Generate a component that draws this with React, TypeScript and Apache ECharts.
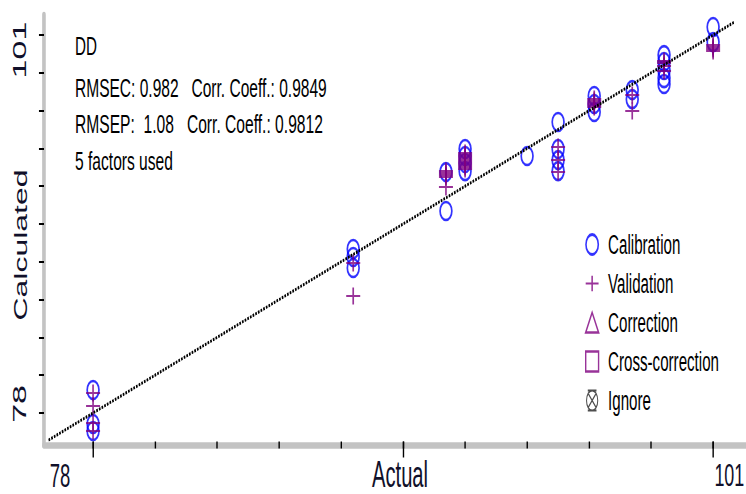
import React, { useEffect, useRef } from 'react';
import * as echarts from 'echarts';

// ---------- data ----------
const calActual = [78, 78, 78, 87.65, 87.65, 87.65, 91.09, 91.09, 91.8, 91.8, 91.8, 91.8, 94.1, 95.25, 95.25, 95.25, 95.25, 96.59, 96.59, 96.59, 98, 98, 99.18, 99.18, 99.18, 99.18, 99.18, 101, 101];
const calCalculated = [79.4, 77.33, 76.9, 87.98, 87.49, 86.82, 92.66, 90.29, 94.06, 93.64, 93.21, 92.72, 93.64, 95.71, 94.06, 93.39, 92.72, 97.29, 96.8, 96.32, 97.65, 97.1, 99.78, 99.36, 98.87, 98.38, 98.02, 101.49, 100.57];

const valActual = [
  78, 78, 78, 78,
  87.65, 87.65,
  91.09, 91.09, 91.09, 91.09, 91.09,
  91.8, 91.8, 91.8, 91.8, 91.8, 91.8, 91.8, 91.8, 91.8,
  95.25, 95.25, 95.25,
  96.59, 96.59, 96.59, 96.59, 96.59,
  98, 98,
  99.18, 99.18, 99.18, 99.18,
  101, 101, 101, 101,
];
const valCalculated = [
  79.22, 78.43, 77.39, 76.9,
  87.13, 85.12,
  92.72, 92.6, 92.48, 92.36, 91.75,
  93.82, 93.7, 93.58, 93.46, 93.33, 93.21, 93.09, 92.97, 92.85,
  94.19, 93.39, 92.66,
  97.11, 96.99, 96.87, 96.75, 96.62,
  97.35, 96.38,
  99.42, 99.3, 99.11, 98.81,
  100.39, 100.27, 100.15, 100.03,
];

const tickValues = [78, 80.3, 82.6, 84.9, 87.2, 89.5, 91.8, 94.1, 96.4, 98.7, 101];
const majorTicks = [78, 89.5, 101];
const labelValues = [78, 101];
const identityLine = [76.35, 101.8];
const legendNames = ['Calibration', 'Validation', 'Correction', 'Cross-correction', 'Ignore'];

const modelName = 'DD';
const rmsec = '0.982';
const corrCal = '0.9849';
const rmsep = '1.08';
const corrVal = '0.9812';
const factorsUsed = 5;

// ---------- layout ----------
const SCALE_X = 0.56;
const VIEW_W = 746;
const VIEW_H = 494;
const CHART_W = VIEW_W / SCALE_X;
const X_MIN = 76.18;
const X_MAX = 102.22;
const Y_MIN = 76.05;
const Y_MAX = 102.22;
const FONT = "'Liberation Sans', Arial, sans-serif";
const LABEL_COLOR = '#10102a';
const AXIS_GRAY = '#c3c3c3';
const BLUE = '#0000ff';
const PURPLE = '#800080';
const CLEAR = 'rgba(0,0,0,0)';

const ELLIPSE = 'path://M0,10A11,10 0 1,1 22,10A11,10 0 1,1 0,10Z';
const CROSS = 'path://M11,0H14V7.5H25V9.5H14V17H11V9.5H0V7.5H11Z';
const IGNORE = 'path://M1,10A9,9 0 1,1 19,10A9,9 0 1,1 1,10Z M4,4L16,16 M16,4L4,16 M3,1H17 M3,19H17';

const annotationLines = [
  modelName,
  `RMSEC: ${rmsec}\u00a0\u00a0 Corr. Coeff.: ${corrCal}`,
  `RMSEP:\u00a0 ${rmsep}\u00a0\u00a0 Corr. Coeff.: ${corrVal}`,
  `${factorsUsed} factors used`,
];
const annotationLayout = [
  { x: 75, y: 46, w: 22 },
  { x: 75, y: 87.5, w: 252 },
  { x: 75, y: 124, w: 248 },
  { x: 75, y: 161, w: 98 },
];
const ANNOT_SIZE = 25;

function measure(text: string, size: number): number {
  const ctx = document.createElement('canvas').getContext('2d');
  if (!ctx) return text.length * size * 0.5;
  ctx.font = `${size}px 'Liberation Sans'`;
  return ctx.measureText(text).width;
}

function buildOption() {
  const graphic = annotationLines.map((t, i) => {
    const l = annotationLayout[i];
    const natural = measure(t, ANNOT_SIZE);
    return {
      type: 'text',
      x: l.x / SCALE_X,
      y: l.y,
      scaleX: l.w / SCALE_X / natural,
      z: 10,
      style: {
        text: t,
        fill: '#000',
        fontSize: ANNOT_SIZE,
        fontFamily: FONT,
        align: 'left',
        verticalAlign: 'middle',
      },
    };
  });

  const tickAxisBase = {
    type: 'value',
    min: X_MIN,
    max: X_MAX,
    position: 'bottom',
    offset: -3.5,
    axisLine: { show: false },
    axisLabel: { show: false },
    splitLine: { show: false },
  };

  const legendStyles: any[] = [
    { icon: ELLIPSE, itemStyle: { color: CLEAR, borderColor: BLUE, borderWidth: 2.8 } },
    { icon: CROSS, itemStyle: { color: PURPLE, borderWidth: 0 } },
    { icon: 'triangle', itemStyle: { color: CLEAR, borderColor: PURPLE, borderWidth: 2.5 } },
    { icon: 'rect', itemStyle: { color: CLEAR, borderColor: PURPLE, borderWidth: 2.5 } },
    { icon: IGNORE, itemStyle: { color: CLEAR, borderColor: '#222', borderWidth: 1.8 } },
  ];

  return {
    animation: false,
    backgroundColor: '#ffffff',
    grid: { left: 44 / SCALE_X, right: 0, top: 15, bottom: 49, containLabel: false, outerBoundsMode: 'none' },
    xAxis: [
      {
        type: 'value',
        min: X_MIN,
        max: X_MAX,
        position: 'bottom',
        axisLine: { show: true, onZero: false, lineStyle: { color: AXIS_GRAY, width: 6.5 } },
        axisTick: { show: false },
        splitLine: { show: false },
        axisLabel: {
          customValues: labelValues,
          margin: 14,
          color: LABEL_COLOR,
          fontFamily: FONT,
          fontSize: 33,
          formatter: (v: number) => (v === labelValues[0] ? `{lo|${v}}` : `{hi|${v}}`),
          rich: {
            lo: { padding: [0, 118, 0, 0], fontSize: 33, fontFamily: FONT, color: LABEL_COLOR },
            hi: { padding: [0, 0, 0, 58], fontSize: 32, fontFamily: FONT, color: LABEL_COLOR },
          },
        },
        name: 'Actual',
        nameLocation: 'middle',
        nameGap: 15,
        nameMoveOverlap: false,
        nameTextStyle: { fontSize: 36, lineHeight: 30, fontFamily: FONT, color: LABEL_COLOR, padding: [0, 0, 0, 18] },
      },
      {
        ...tickAxisBase,
        axisTick: { show: true, customValues: tickValues, length: 7, lineStyle: { color: '#000', width: 2.5 } },
      },
      {
        ...tickAxisBase,
        axisTick: { show: true, customValues: majorTicks, length: 16, lineStyle: { color: '#000', width: 2.5 } },
      },
    ],
    yAxis: [
      {
        type: 'value',
        min: Y_MIN,
        max: Y_MAX,
        position: 'left',
        axisLine: { show: true, onZero: false, lineStyle: { color: AXIS_GRAY, width: 6.5 } },
        axisTick: { show: true, inside: false, customValues: tickValues, length: 9, lineStyle: { color: '#000', width: 2 } },
        splitLine: { show: false },
        axisLabel: {
          customValues: labelValues,
          rotate: 90,
          margin: 26,
          color: LABEL_COLOR,
          fontFamily: FONT,
          fontSize: 34,
          formatter: (v: number) => (v === labelValues[0] ? `{lo|${v}}` : `{hi|${v}}`),
          rich: {
            lo: { padding: [0, 0, 0, 18], fontSize: 34, fontFamily: FONT, color: LABEL_COLOR },
            hi: { padding: [0, 30, 0, 0], fontSize: 34, fontFamily: FONT, color: LABEL_COLOR },
          },
        },
        name: 'Calculated',
        nameLocation: 'middle',
        nameRotate: 90,
        nameGap: 25,
        nameMoveOverlap: false,
        nameTextStyle: { fontSize: 32, fontFamily: FONT, color: LABEL_COLOR, padding: [0, 30, 0, 0] },
      },
    ],
    legend: {
      orient: 'vertical',
      left: 585 / SCALE_X,
      top: 231,
      padding: 0,
      itemWidth: 23,
      itemHeight: 20,
      itemGap: 12,
      selectedMode: false,
      textStyle: { color: '#000', fontSize: 27, fontFamily: FONT, lineHeight: 27, padding: [0, 0, 0, 12] },
      data: legendNames.map((n, i) => ({ name: n, ...legendStyles[i] })),
    },
    graphic,
    series: [
      {
        name: legendNames[0],
        type: 'scatter',
        data: calActual.map((x, i) => [x, calCalculated[i]]),
        symbol: ELLIPSE,
        symbolSize: [21, 18],
        itemStyle: { color: CLEAR, borderColor: BLUE, borderWidth: 2.8 },
        emphasis: { disabled: true },
        z: 2,
      },
      {
        name: legendNames[1],
        type: 'scatter',
        data: valActual.map((x, i) => [x, valCalculated[i]]),
        symbol: CROSS,
        symbolSize: [25, 17],
        itemStyle: { color: PURPLE },
        emphasis: { disabled: true },
        z: 3,
      },
      { name: legendNames[2], type: 'scatter', data: [], symbol: 'triangle', itemStyle: { color: CLEAR, borderColor: PURPLE, borderWidth: 2.5 } },
      { name: legendNames[3], type: 'scatter', data: [], symbol: 'rect', itemStyle: { color: CLEAR, borderColor: PURPLE, borderWidth: 2.5 } },
      { name: legendNames[4], type: 'scatter', data: [], symbol: IGNORE, itemStyle: { color: CLEAR, borderColor: '#222', borderWidth: 1.8 } },
      {
        type: 'line',
        data: identityLine.map((v) => [v, v]),
        symbol: 'none',
        silent: true,
        lineStyle: { color: '#000', width: 3, type: [3, 2] },
        z: 4,
      },
    ],
  };
}

export default function App() {
  const ref = useRef<HTMLDivElement>(null);
  useEffect(() => {
    if (!ref.current) return;
    document.body.style.margin = '0';
    const chart = echarts.init(ref.current, null, { renderer: 'svg', width: CHART_W, height: VIEW_H });
    chart.setOption(buildOption() as any);
    return () => chart.dispose();
  }, []);
  return (
    <div style={{ position: 'fixed', left: 0, top: 0, width: VIEW_W, height: VIEW_H, overflow: 'hidden', background: '#fff' }}>
      <div
        ref={ref}
        style={{ width: CHART_W, height: VIEW_H, transform: `scaleX(${SCALE_X})`, transformOrigin: '0 0' }}
      />
    </div>
  );
}
